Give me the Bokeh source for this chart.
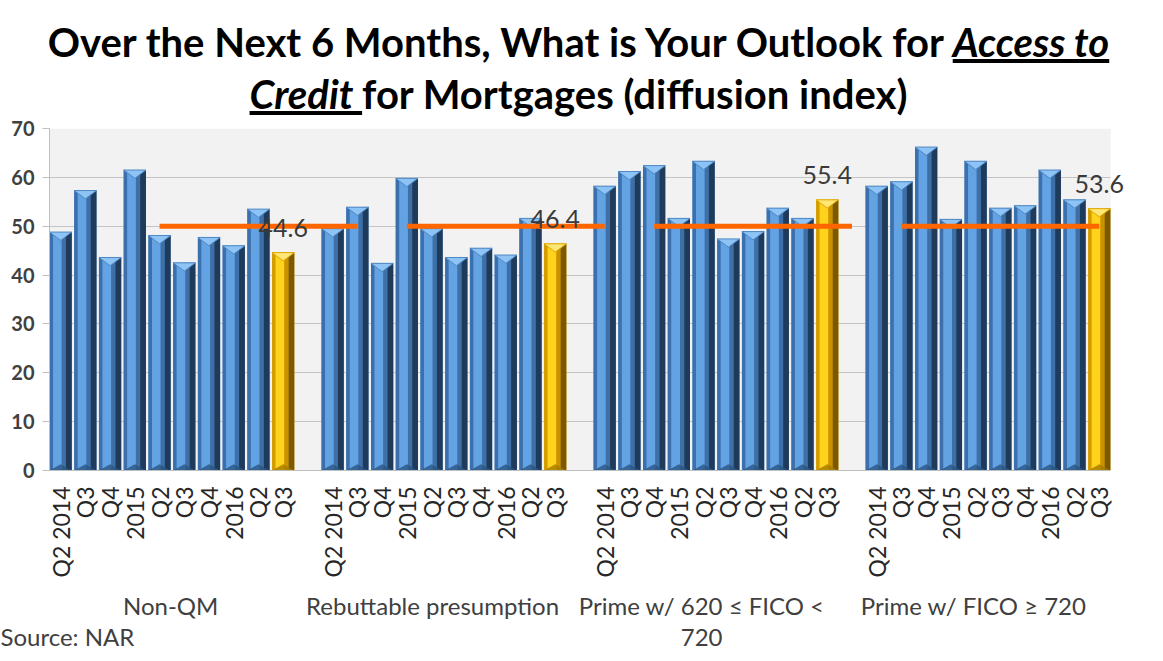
import math
import numpy as np
from bokeh.plotting import figure
from bokeh.models import Range1d, FixedTicker, LinearAxis, Div, ColumnDataSource
from bokeh.layouts import column
from bokeh.embed import file_html
from bokeh.resources import INLINE
from bokeh.core.properties import value

# ---------------- data ----------------
groups = ["Non-QM", "Rebuttable presumption", "Prime w/ 620 \u2264 FICO <\n720", "Prime w/ FICO \u2265 720"]
quarters = ["Q2 2014", "Q3", "Q4", "2015", "Q2", "Q3", "Q4", "2016", "Q2", "Q3"]
non_qm = [48.8, 57.3, 43.6, 61.5, 48.1, 42.5, 47.7, 46.0, 53.5, 44.6]
rebuttable = [49.5, 53.9, 42.4, 59.8, 49.5, 43.6, 45.5, 44.1, 51.6, 46.4]
prime_620 = [58.2, 61.2, 62.4, 51.6, 63.3, 47.4, 48.9, 53.7, 51.6, 55.4]
prime_720 = [58.2, 59.1, 66.2, 51.4, 63.3, 53.7, 54.2, 61.5, 55.4, 53.6]
# reference line (value 50) as plotted, one slot per category incl. gaps
threshold_line = [None] * 4 + [50] * 9 + [None] + [50] * 9 + [None] + [50] * 9 + [None] + [50] * 9
y_ticks = [0, 10, 20, 30, 40, 50, 60, 70]
source_text = "Source: NAR"

FONT = "Lato"
series = [non_qm, rebuttable, prime_620, prime_720]

# ---------------- positions ----------------
slot = 11  # 10 bars + 1 empty slot between groups
xs, vals, latest = [], [], []
for g, s in enumerate(series):
    for j, v in enumerate(s):
        xs.append(g * slot + j)
        vals.append(v)
        latest.append(j == len(s) - 1)
xs = np.array(xs, dtype=float)
vals = np.array(vals, dtype=float)
latest = np.array(latest)

X0, X1 = -0.45, 42.46   # extent of the grey plot area
W = 0.9
left = xs - W / 2
right = xs + W / 2

p = figure(width=1147, height=545, output_backend="svg", toolbar_location=None,
           x_range=Range1d(X0, X1 + 0.6), y_range=Range1d(0, 70),
           min_border_left=49, min_border_right=22, min_border_top=18, min_border_bottom=185,
           background_fill_color="white", border_fill_color=None, outline_line_color=None)

# grey plotting area
p.quad(left=X0, right=X1, bottom=0, top=70, fill_color="#f2f2f2", line_color=None, level="image")

def draw_bars(mask, pal):
    l, r, x, v = left[mask], right[mask], xs[mask], vals[mask]
    w = r - l
    p.quad(left=l, right=r, bottom=0, top=v, fill_color=pal["body"], line_color=None)
    p.quad(left=l, right=l + 0.16 * w, bottom=0, top=v, fill_color=pal["left"], line_color=None)
    p.quad(left=l + 0.16 * w, right=l + 0.55 * w, bottom=0, top=v, fill_color=pal["hi"], line_color=None)
    p.quad(left=l + 0.55 * w, right=l + 0.74 * w, bottom=0, top=v, fill_color=pal["mid"], line_color=None)
    p.quad(left=l + 0.74 * w, right=r, bottom=0, top=v, fill_color=pal["dark"], line_color=None)
    p.patches(xs=[[a, b, c] for a, b, c in zip(l, r, x)],
              ys=[[t, t, t - 1.7] for t in v],
              fill_color=pal["top"], line_color=pal["topline"], line_width=1)
    p.patches(xs=[[a, b, c] for a, b, c in zip(l, r, x)],
              ys=[[0, 0, 1.3] for _ in v],
              fill_color=pal["bot"], line_color=None, fill_alpha=0.8)

blue = dict(body="#4a86c6", left="#3b70ad", hi="#63a3e4", mid="#3e6fa6", dark="#1f3b5c",
            top="#8ec4f5", topline="#4f88c4", bot="#2a5583")
gold = dict(body="#eeb000", left="#d39c00", hi="#ffd21c", mid="#c99200", dark="#7a5900",
            top="#ffe675", topline="#e0a800", bot="#a57a00")

draw_bars(~latest, blue)
draw_bars(latest, gold)

# reference line at 50
line_x = np.arange(len(threshold_line), dtype=float)
line_y = np.array([np.nan if t is None else t for t in threshold_line], dtype=float)
p.line(line_x, line_y, line_color="#ff6600", line_width=5)

# data labels on latest bars
lab = ColumnDataSource(dict(x=xs[latest], y=vals[latest], t=["%.1f" % v for v in vals[latest]]))
p.text(x="x", y="y", text="t", source=lab, y_offset=-25, text_align="center", text_baseline="middle",
       text_font=value(FONT), text_font_size="25px", text_color="#3a3a3a")

# y axis
p.yaxis.ticker = FixedTicker(ticks=y_ticks)
p.yaxis.major_label_text_font = FONT
p.yaxis.major_label_text_font_size = "20px"
p.yaxis.major_label_text_font_style = "bold"
p.yaxis.major_label_text_color = "#404040"
p.yaxis.axis_line_color = "#bfbfbf"
p.yaxis.major_tick_line_color = "#bfbfbf"
p.yaxis.major_tick_out = 7
p.yaxis.major_tick_in = 0
p.yaxis.minor_tick_line_color = None
p.yaxis.major_label_standoff = 8
p.ygrid.grid_line_color = "#c4c4c4"
p.xgrid.grid_line_color = None
if "cross_bounds" in p.ygrid[0].properties():
    p.ygrid[0].cross_bounds = (X0, X1)

# x axis: quarters
tick_pos = [int(x) for x in xs]
qlabels = [quarters[j] for g in range(len(series)) for j in range(len(quarters))]
p.xaxis.ticker = FixedTicker(ticks=tick_pos)
p.xaxis.bounds = (X0, X1)
p.xaxis.major_label_overrides = {t: q for t, q in zip(tick_pos, qlabels)}
p.xaxis.major_label_orientation = math.pi / 2
p.xaxis.major_label_text_font = FONT
p.xaxis.major_label_text_font_size = "23px"
p.xaxis.major_label_text_color = "#262626"
p.xaxis.axis_line_color = "#bfbfbf"
p.xaxis.major_tick_line_color = None
p.xaxis.minor_tick_line_color = None
p.xaxis.major_label_standoff = 10

# x axis: groups (+ source note on the second text line at the far left)
group_pos = [4.45, 15.04, 25.92, 36.92]
source_pos = 0.15
gaxis = LinearAxis(ticker=FixedTicker(ticks=group_pos + [source_pos]),
                   major_label_overrides={**{t: g for t, g in zip(group_pos, groups)},
                                          source_pos: "\u00a0\n" + source_text})
gaxis.axis_line_color = None
gaxis.major_tick_line_color = None
gaxis.minor_tick_line_color = None
gaxis.major_label_text_font = FONT
gaxis.major_label_text_font_size = "24px"
gaxis.major_label_text_line_height = 1.1
gaxis.major_label_text_color = "#404040"
gaxis.major_label_standoff = 4
p.add_layout(gaxis, "below")

title_html = (
    '<div style="font-family: Lato; font-weight: bold; font-size: 40px; line-height: 52px; '
    'text-align: center; color: #000; padding-top: 11px; width: 1147px; white-space: nowrap;">'
    'Over the Next 6 Months, What is Your Outlook for <u><i>Access to</i></u><br>'
    '<u><i>Credit&nbsp;</i></u>for Mortgages (diffusion index)</div>'
)
title = Div(text=title_html, width=1147, height=100)

layout = column(title, p, spacing=0)
open("out.html", "w").write(file_html(layout, INLINE))
